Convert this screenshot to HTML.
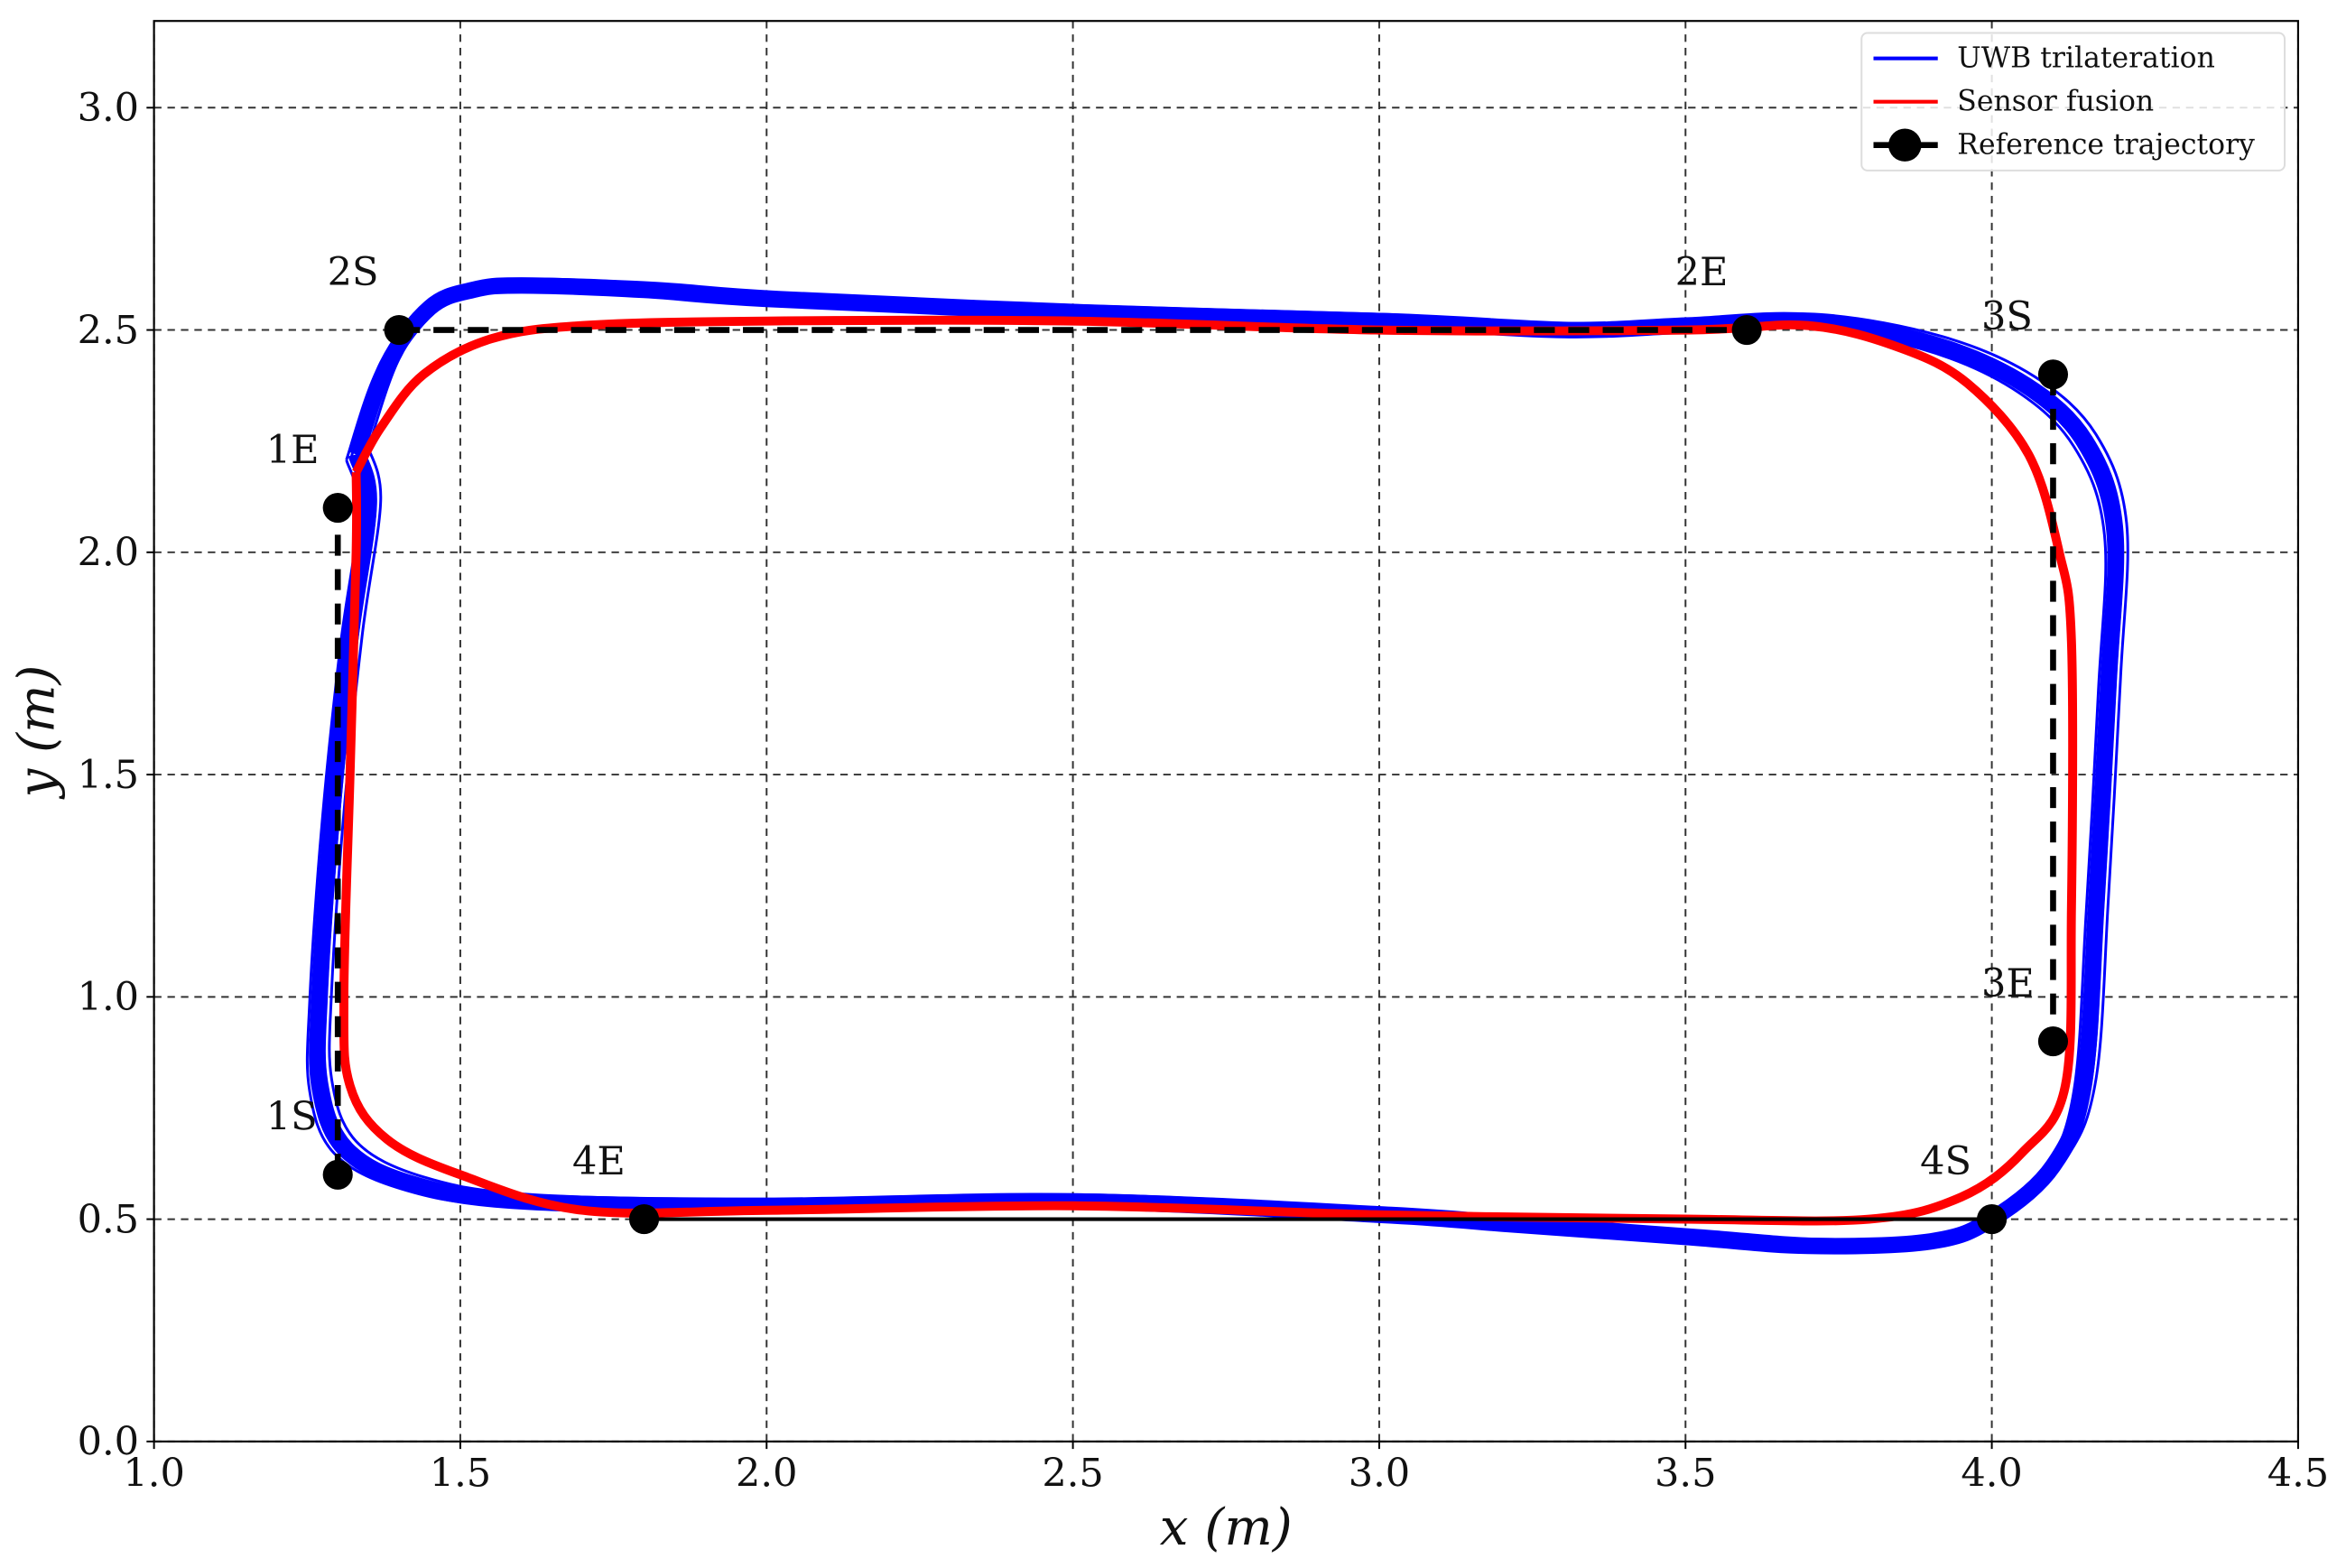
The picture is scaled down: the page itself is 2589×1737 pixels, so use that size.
<!DOCTYPE html>
<html><head><meta charset="utf-8"><style>
html,body{margin:0;padding:0;background:#fff;}
svg{display:block;}
text{font-family:"DejaVu Serif","Liberation Serif",serif;fill:#111;}
</style></head><body>
<svg id="chart" width="2589" height="1737" viewBox="0 0 1563 1048.6" xmlns="http://www.w3.org/2000/svg">
<g id="grid"></g>
<g id="traces"></g>
<g id="axes"></g>
</svg>
<script>
const xTicks=[1.0,1.5,2.0,2.5,3.0,3.5,4.0,4.5];
const yTicks=[0.0,0.5,1.0,1.5,2.0,2.5,3.0];
const refLabels=["1S","1E","2S","2E","3S","3E","4S","4E"];
const refX=[1.3,1.3,1.4,3.6,4.1,4.1,4.0,1.8];
const refY=[0.6,2.1,2.5,2.5,2.4,0.9,0.5,0.5];
const uwbX=[1.33,1.38,1.45,1.52,1.6,1.8,2.0,2.5,3.0,3.3,3.5,3.7,3.9,4.05,4.15,4.2,4.19,4.17,4.15,4.1,4.0,3.9,3.7,3.5,3.2,3.0,2.5,2.0,1.6,1.42,1.31,1.27,1.27,1.29,1.32,1.35,1.33];
const uwbY=[2.22,2.42,2.55,2.59,2.6,2.59,2.57,2.54,2.52,2.5,2.51,2.52,2.47,2.38,2.25,2.05,1.7,1.2,0.8,0.62,0.5,0.45,0.44,0.46,0.49,0.51,0.54,0.53,0.54,0.58,0.66,0.8,1.0,1.4,1.8,2.1,2.22];
const fusX=[1.33,1.33,1.32,1.31,1.32,1.38,1.5,1.7,2.0,2.5,3.0,3.5,3.8,3.95,4.05,4.12,4.13,4.13,4.11,4.06,3.96,3.85,3.7,3.5,3.0,2.5,2.0,1.7,1.55,1.44,1.37,1.33];
const fusY=[2.18,2.0,1.5,1.0,0.8,0.68,0.6,0.52,0.52,0.53,0.51,0.5,0.5,0.55,0.65,0.8,1.2,1.8,2.0,2.22,2.38,2.46,2.51,2.5,2.5,2.52,2.52,2.51,2.48,2.4,2.28,2.18];
const uwbOffsets=[-0.02,-0.01,0,0.01,0.015,0.025];

const NS="http://www.w3.org/2000/svg";
const L=103,R=1537,T=14,B=964;
const sx=v=>L+(v-1.0)/3.5*(R-L);
function ysc(v){return 964-v*(964-72)/3.0;}
function mk(tag,attrs,parent){const e=document.createElementNS(NS,tag);for(const k in attrs)e.setAttribute(k,attrs[k]);parent.appendChild(e);return e;}
const grid=document.getElementById('grid'),traces=document.getElementById('traces'),axes=document.getElementById('axes');

xTicks.forEach((t,i)=>{
  const l=mk('line',{x1:sx(t),x2:sx(t),y1:T,y2:B,stroke:'#333','stroke-width':1.2,'stroke-dasharray':'5,4'},grid);
  
  
  const tk=mk('line',{x1:sx(t),x2:sx(t),y1:B,y2:B+5,stroke:'#000','stroke-width':1.2},axes);
  
  
  const tx=mk('text',{x:sx(t),y:B+30,'text-anchor':'middle','font-size':26},axes);
  tx.textContent=t.toFixed(1);
  
  
});
yTicks.forEach(t=>{
  const l=mk('line',{x1:L,x2:R,y1:ysc(t),y2:ysc(t),stroke:'#333','stroke-width':1.2,'stroke-dasharray':'5,4'},grid);
  
  
  const tk=mk('line',{x1:L-5,x2:L,y1:ysc(t),y2:ysc(t),stroke:'#000','stroke-width':1.2},axes);
  
  
  const tx=mk('text',{x:L-10,y:ysc(t)+9,'text-anchor':'end','font-size':26},axes);
  tx.textContent=t.toFixed(1);
  
  
});

function smooth(xs,ys,dx,dy){
  const p=xs.map((x,i)=>[sx(x+dx),ysc(ys[i]+dy)]);
  let d=`M${p[0][0].toFixed(1)},${p[0][1].toFixed(1)}`;
  for(let i=0;i<p.length-1;i++){
    const p0=p[Math.max(0,i-1)],p1=p[i],p2=p[i+1],p3=p[Math.min(p.length-1,i+2)];
    const c1=[p1[0]+(p2[0]-p0[0])/6,p1[1]+(p2[1]-p0[1])/6];
    const c2=[p2[0]-(p3[0]-p1[0])/6,p2[1]-(p3[1]-p1[1])/6];
    d+=` C${c1[0].toFixed(1)},${c1[1].toFixed(1)} ${c2[0].toFixed(1)},${c2[1].toFixed(1)} ${p2[0].toFixed(1)},${p2[1].toFixed(1)}`;
  }
  return d;
}
const ub=mk('path',{d:smooth(uwbX,uwbY,0,0),fill:'none',stroke:'#0000ff','stroke-width':11,'stroke-linejoin':'round'},traces);


uwbOffsets.forEach(o=>{
  const p=mk('path',{d:smooth(uwbX,uwbY,o*0.8,o*0.6),fill:'none',stroke:'#0000ff','stroke-width':1.8,'stroke-linejoin':'round'},traces);
  
  
});
const fu=mk('path',{d:smooth(fusX,fusY,0,0),fill:'none',stroke:'#ff0000','stroke-width':6,'stroke-linejoin':'round'},traces);



for(let s=0;s<4;s++){
  const a=2*s,b=2*s+1;
  const attrs={x1:sx(refX[a]),y1:ysc(refY[a]),x2:sx(refX[b]),y2:ysc(refY[b]),stroke:'#000','stroke-width':s<3?4:2.5};
  if(s<3)attrs['stroke-dasharray']='14,9';
  const ln=mk('line',attrs,traces);
  
  
}
refLabels.forEach((n,i)=>{
  const c=mk('circle',{cx:sx(refX[i]),cy:ysc(refY[i]),r:10,fill:'#000'},traces);
  
  
  const t=mk('text',{x:sx(refX[i])-48,y:ysc(refY[i])-30,'font-size':26},traces);
  t.textContent=n;
  
  
});

const fr=mk('rect',{x:L,y:T,width:R-L,height:B-T,fill:'none',stroke:'#000','stroke-width':1.3},axes);


const xl=mk('text',{x:(L+R)/2,y:1033,'text-anchor':'middle','font-size':34,'font-style':'italic'},axes);
xl.textContent='x (m)';


const yl=mk('text',{x:0,y:0,'text-anchor':'middle','font-size':34,'font-style':'italic',transform:`translate(36,${(T+B)/2}) rotate(-90)`},axes);
yl.textContent='y (m)';



const lg=mk('g',{},axes);


mk('rect',{x:1245,y:22,width:283,height:92,rx:4,fill:'#fff','fill-opacity':0.85,stroke:'#ddd','stroke-width':1.2},lg);
const items=[['UWB trilateration','#0000ff',false],['Sensor fusion','#ff0000',false],['Reference trajectory','#000',true]];
items.forEach((it,i)=>{
  const y=39+i*29;
  const g=mk('g',{},lg);
  
  
  mk('line',{x1:1253,x2:1296,y1:y,y2:y,stroke:it[1],'stroke-width':it[2]?4:2.5},g);
  if(it[2])mk('circle',{cx:1274,cy:y,r:11,fill:'#000'},g);
  const t=mk('text',{x:1309,y:y+6,'font-size':19},g);
  t.textContent=it[0];
});
</script>
</body></html>
